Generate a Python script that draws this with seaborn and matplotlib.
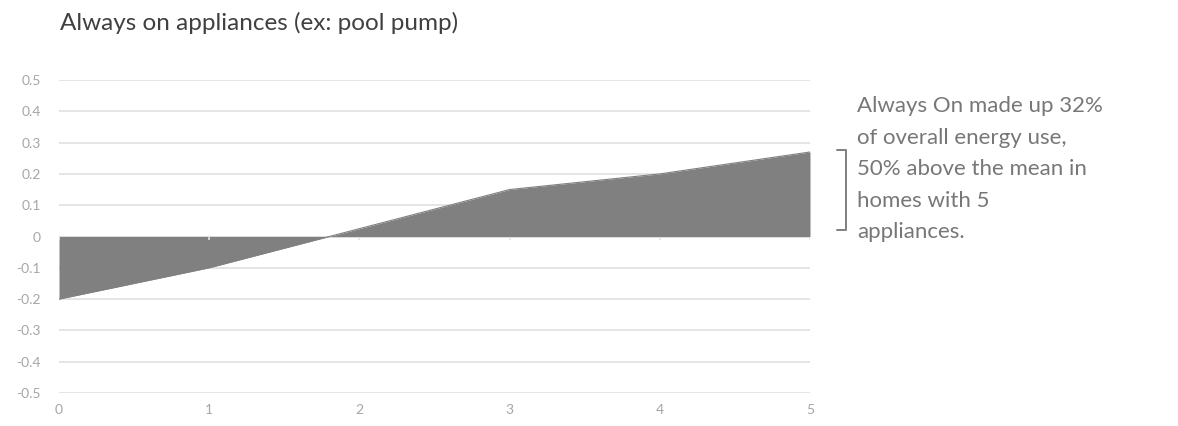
import matplotlib
matplotlib.use("Agg")
import matplotlib.pyplot as plt
import seaborn as sns
import pandas as pd

# Appliance count vs. deviation of always-on share
appliances = [0, 1, 2, 3, 4, 5]
deviation = [-0.20, -0.10, 0.025, 0.15, 0.20, 0.27]
y_ticks = [-0.5, -0.4, -0.3, -0.2, -0.1, 0, 0.1, 0.2, 0.3, 0.4, 0.5]
y_tick_labels = ["-0.5", "-0.4", "-0.3", "-0.2", "-0.1", "0", "0.1", "0.2", "0.3", "0.4", "0.5"]
title = "Always on appliances (ex: pool pump)"
note_lines = ["Always On made up 32%", "of overall energy use,",
              "50% above the mean in", "homes with 5", "appliances."]

df = pd.DataFrame({"appliances": appliances, "deviation": deviation})

sns.set_theme(style="white")
plt.rcParams["font.family"] = ["Lato", "DejaVu Sans"]

W, H = 1178, 426
fig = plt.figure(figsize=(W / 100, H / 100), dpi=100)
ax = fig.add_axes([59 / W, 1 - 393 / H, (810 - 59) / W, (393 - 80) / H])

grid_c = "#e3e3e3"
tick_c = "#a6a6a6"
fill_c = "#808080"

for yv in y_ticks:
    if yv != 0:
        ax.axhline(yv, color=grid_c, lw=1.3, zorder=0)

ax.fill_between(df["appliances"], df["deviation"], 0, color=fill_c, lw=0, zorder=2)
sns.lineplot(data=df, x="appliances", y="deviation", ax=ax, color=fill_c, lw=0.8, zorder=3)

# category axis along zero
ax.axhline(0, color="#d9d9d9", lw=1.3, zorder=1)
for xv in appliances:
    ax.plot([xv, xv], [0, -0.012], color="#e0e0e0", lw=1.2, zorder=4, solid_capstyle="butt")

ax.set_xlim(0, 5)
ax.set_ylim(-0.5, 0.5)
ax.set_yticks(y_ticks)
ax.set_yticklabels(y_tick_labels)
ax.set_xticks(appliances)
ax.set_xticklabels([str(a) for a in appliances])
ax.set_xlabel("")
ax.set_ylabel("")
for s in ax.spines.values():
    s.set_visible(False)
ax.tick_params(axis="y", length=0, pad=13, labelsize=10, labelcolor=tick_c)
ax.tick_params(axis="x", length=0, pad=8, labelsize=10, labelcolor=tick_c)

fig.text(60 / W, 1 - 23 / H, title, fontsize=17.5, color="#404040",
         ha="left", va="center")

for i, line in enumerate(note_lines):
    fig.text(857 / W, 1 - (106 + 31.5 * i) / H, line, fontsize=16, color="#777777",
             ha="left", va="center")

# bracket beside the note
bx = 846 / W
bt = 1 - 150 / H
bb = 1 - 230 / H
bw = 9 / W
fig.add_artist(plt.Line2D([bx - bw, bx, bx, bx - bw], [bt, bt, bb, bb],
                          color="#7f7f7f", lw=1.4, transform=fig.transFigure))

fig.savefig("out.png", dpi=100)
